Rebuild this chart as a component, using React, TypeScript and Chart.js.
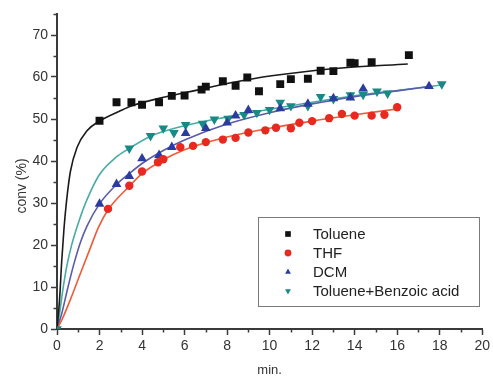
import React, { useEffect, useRef } from 'react';
import { Chart, registerables } from 'chart.js';

Chart.register(...registerables);

// ---------- data ----------
const seriesNames = ['Toluene', 'THF', 'DCM', 'Toluene+Benzoic acid'];

const tolX = [2.0, 2.8, 3.5, 4.0, 4.8, 5.4, 6.0, 6.8, 7.0, 7.8, 8.4, 8.95, 9.5, 10.5, 11.0, 11.8, 12.4, 13.0, 13.8, 14.0, 14.8, 16.55];
const tolY = [49.6, 54.0, 54.0, 53.4, 54.0, 55.5, 55.6, 57.0, 57.7, 59.0, 57.9, 59.9, 56.6, 58.3, 59.5, 59.6, 61.5, 61.4, 63.4, 63.3, 63.5, 65.2];

const thfX = [2.4, 3.4, 4.0, 4.75, 5.0, 5.8, 6.4, 7.0, 7.8, 8.4, 9.0, 9.8, 10.3, 11.0, 11.4, 12.0, 12.8, 13.4, 14.0, 14.8, 15.4, 16.0];
const thfY = [28.6, 34.1, 37.5, 39.7, 40.4, 43.3, 43.6, 44.5, 45.1, 45.5, 46.8, 47.3, 47.9, 47.8, 49.1, 49.5, 50.2, 51.2, 50.8, 50.8, 51.0, 52.8];

const dcmX = [2.0, 2.8, 3.4, 4.0, 4.8, 5.4, 6.05, 7.0, 8.0, 8.4, 9.0, 10.5, 11.8, 13.0, 13.8, 14.4, 17.5];
const dcmY = [29.8, 34.5, 36.4, 40.6, 41.4, 43.3, 46.6, 47.8, 49.1, 50.8, 52.1, 52.5, 53.6, 54.9, 55.1, 57.2, 57.8];

const tbaX = [0, 3.4, 4.4, 5.0, 5.5, 6.05, 6.85, 7.4, 8.05, 8.8, 9.4, 10.0, 10.5, 11.0, 11.8, 12.4, 13.0, 13.8, 14.4, 15.05, 15.55, 18.1];
const tbaY = [0, 43.0, 46.0, 47.8, 46.7, 48.6, 48.9, 49.9, 50.1, 51.0, 51.5, 52.2, 53.9, 53.1, 53.1, 55.3, 54.8, 55.7, 55.8, 56.6, 56.1, 58.3];

// fitted curves
const tolFitX = [0, 0.12, 0.22, 0.33, 0.45, 0.63, 0.94, 1.41, 2.0, 3.0, 3.56, 5.13, 6.7, 8.25, 10.1, 13.25, 16.5];
const tolFitY = [0, 7, 16, 24, 30.5, 37.5, 43.2, 47.2, 49.5, 52.0, 53.2, 55.3, 57.0, 58.7, 60.3, 62.1, 63.1];

const thfFitX = [0, 0.23, 0.63, 1.1, 1.56, 1.96, 2.42, 3.4, 4.0, 5.0, 6.0, 8.0, 10.0, 12.0, 14.0, 16.0];
const thfFitY = [0, 2.2, 7.0, 13.2, 19.2, 24.3, 28.5, 34.0, 37.0, 40.3, 42.7, 45.7, 47.8, 49.5, 51.0, 52.4];

const dcmFitX = [0, 0.23, 0.47, 0.78, 1.1, 1.41, 2.0, 2.8, 3.4, 4.0, 5.0, 6.0, 8.0, 10.0, 12.0, 14.0, 16.0, 17.5];
const dcmFitY = [0, 3.8, 9.0, 15.2, 20.6, 24.5, 29.8, 34.4, 37.0, 39.4, 42.5, 45.0, 48.8, 51.5, 53.6, 55.3, 56.7, 57.7];

const tbaFitX = [0, 0.13, 0.28, 0.47, 0.7, 1.02, 1.41, 2.0, 2.78, 3.4, 4.4, 6.0, 8.0, 10.0, 12.0, 14.0, 16.0, 18.1];
const tbaFitY = [0, 4, 9.5, 15.2, 20.2, 25.5, 30.8, 36.8, 40.9, 43.0, 45.9, 48.4, 50.5, 52.3, 54.0, 55.5, 56.8, 58.1];

const xTickValues = [0, 2, 4, 6, 8, 10, 12, 14, 16, 18, 20];
const yTickValues = [0, 10, 20, 30, 40, 50, 60, 70];
const xMinorTicks = [1, 3, 5, 7, 9, 11, 13, 15, 17, 19];
const yMinorTicks = [5, 15, 25, 35, 45, 55, 65, 75];

// ---------- styles ----------
const FONT = '"Liberation Sans", Arial, Helvetica, sans-serif';
const AXIS = '#3a3a3a';
const TEXT = '#333333';
const markerColors = ['#111111', '#e8291f', '#2c3c9e', '#178a86'];
const lineColors = ['#1a1a1a', '#ef5a38', '#5a5caa', '#48aca6'];
const markerStyles = ['rect', 'circle', 'triangle', 'triangle'];
const markerRotation = [0, 0, 0, 180];
const markerRadius = [5.6, 4.2, 5.6, 5.6];

const pts = (xs: number[], ys: number[]) => xs.map((x, i) => ({ x, y: ys[i] }));

const markerData = [pts(tolX, tolY), pts(thfX, thfY), pts(dcmX, dcmY), pts(tbaX, tbaY)];
const fitData = [pts(tolFitX, tolFitY), pts(thfFitX, thfFitY), pts(dcmFitX, dcmFitY), pts(tbaFitX, tbaFitY)];

function drawMarker(ctx: CanvasRenderingContext2D, style: string, rot: number, cx: number, cy: number, r: number, color: string) {
  ctx.save();
  ctx.fillStyle = color;
  ctx.beginPath();
  if (style === 'rect') {
    const s = r * Math.SQRT1_2;
    ctx.rect(cx - s, cy - s, 2 * s, 2 * s);
  } else if (style === 'circle') {
    ctx.arc(cx, cy, r, 0, Math.PI * 2);
  } else {
    const a0 = (rot * Math.PI) / 180;
    for (let k = 0; k < 3; k++) {
      const a = a0 + (k * 2 * Math.PI) / 3;
      const px = cx + Math.sin(a) * r;
      const py = cy - Math.cos(a) * r;
      if (k === 0) ctx.moveTo(px, py);
      else ctx.lineTo(px, py);
    }
    ctx.closePath();
  }
  ctx.fill();
  ctx.restore();
}

const decorPlugin = {
  id: 'decor',
  afterDraw(chart: any) {
    const { ctx, chartArea } = chart;
    const xs = chart.scales.x;
    const ys = chart.scales.y;
    ctx.save();
    // minor ticks
    ctx.strokeStyle = AXIS;
    ctx.lineWidth = 1.5;
    yMinorTicks.forEach((v) => {
      const py = Math.round(ys.getPixelForValue(v)) + 0.5;
      ctx.beginPath();
      ctx.moveTo(chartArea.left, py);
      ctx.lineTo(chartArea.left - 3.5, py);
      ctx.stroke();
    });
    xMinorTicks.forEach((v) => {
      const px = Math.round(xs.getPixelForValue(v)) + 0.5;
      ctx.beginPath();
      ctx.moveTo(px, chartArea.bottom);
      ctx.lineTo(px, chartArea.bottom + 3.5);
      ctx.stroke();
    });
    // y axis title
    ctx.save();
    ctx.translate(22, 186);
    ctx.rotate(-Math.PI / 2);
    ctx.font = `14px ${FONT}`;
    ctx.fillStyle = TEXT;
    ctx.textAlign = 'center';
    ctx.textBaseline = 'middle';
    ctx.fillText('conv (%)', 0, 0);
    ctx.restore();
    // legend
    const bx = 258.5, by = 217.5, bw = 221, bh = 89;
    ctx.fillStyle = '#ffffff';
    ctx.fillRect(bx, by, bw, bh);
    ctx.strokeStyle = '#7a7a7a';
    ctx.lineWidth = 1;
    ctx.strokeRect(bx, by, bw, bh);
    const rowsY = [234, 253, 272, 291];
    ctx.font = `15px ${FONT}`;
    ctx.textAlign = 'left';
    ctx.textBaseline = 'middle';
    seriesNames.forEach((name, i) => {
      drawMarker(ctx, markerStyles[i], markerRotation[i], 288, rowsY[i], i === 0 ? 4 : 3.4, markerColors[i]);
      ctx.fillStyle = '#222222';
      ctx.fillText(name, 313, rowsY[i] + 1);
    });
    ctx.restore();
  },
};

export default function App() {
  const canvasRef = useRef<HTMLCanvasElement | null>(null);

  useEffect(() => {
    const canvas = canvasRef.current;
    if (!canvas) return;

    const markerSets = seriesNames.map((name, i) => ({
      label: name,
      data: markerData[i],
      showLine: false,
      pointStyle: markerStyles[i],
      rotation: markerRotation[i],
      pointRadius: markerRadius[i],
      pointHoverRadius: markerRadius[i],
      backgroundColor: markerColors[i],
      borderColor: markerColors[i],
      borderWidth: 0,
    }));

    const fitSets = seriesNames.map((name, i) => ({
      label: name + ' fit',
      data: fitData[i],
      showLine: true,
      pointRadius: 0,
      borderColor: lineColors[i],
      backgroundColor: lineColors[i],
      borderWidth: 1.6,
      cubicInterpolationMode: 'monotone',
      fill: false,
    }));

    const chart = new Chart(canvas, {
      type: 'scatter',
      data: { datasets: [...markerSets, ...fitSets] as any },
      options: {
        animation: false,
        responsive: false,
        devicePixelRatio: 1,
        layout: { padding: { left: 0, top: 14, right: 9, bottom: 0 } },
        plugins: {
          legend: { display: false },
          tooltip: { enabled: false },
        },
        scales: {
          x: {
            type: 'linear',
            min: 0,
            max: 20,
            afterBuildTicks: (s: any) => {
              s.ticks = xTickValues.map((v) => ({ value: v }));
            },
            afterFit: (s: any) => {
              s.height = 48;
            },
            grid: {
              display: true,
              drawOnChartArea: false,
              drawTicks: true,
              tickLength: 6,
              tickWidth: 1.5,
              tickColor: AXIS,
            },
            border: { display: true, color: AXIS, width: 2 },
            ticks: {
              padding: 3,
              color: TEXT,
              font: { size: 14, family: FONT },
              maxRotation: 0,
              autoSkip: false,
            },
            title: {
              display: true,
              text: 'min.',
              color: TEXT,
              font: { size: 13, family: FONT, lineHeight: 1 },
              padding: { top: 0, bottom: 0 },
            },
          },
          y: {
            type: 'linear',
            min: 0,
            max: 75,
            afterBuildTicks: (s: any) => {
              s.ticks = yTickValues.map((v) => ({ value: v }));
            },
            afterFit: (s: any) => {
              s.width = 57;
            },
            grid: {
              display: true,
              drawOnChartArea: false,
              drawTicks: true,
              tickLength: 6,
              tickWidth: 1.5,
              tickColor: AXIS,
            },
            border: { display: true, color: AXIS, width: 2 },
            ticks: {
              padding: 3,
              color: TEXT,
              font: { size: 14, family: FONT },
              autoSkip: false,
            },
          },
        },
      } as any,
      plugins: [decorPlugin],
    });

    return () => {
      chart.destroy();
    };
  }, []);

  return (
    <div style={{ position: 'fixed', left: 0, top: 0, width: 493, height: 377, background: '#ffffff' }}>
      <canvas ref={canvasRef} width={493} height={377} style={{ display: 'block' }} />
    </div>
  );
}
